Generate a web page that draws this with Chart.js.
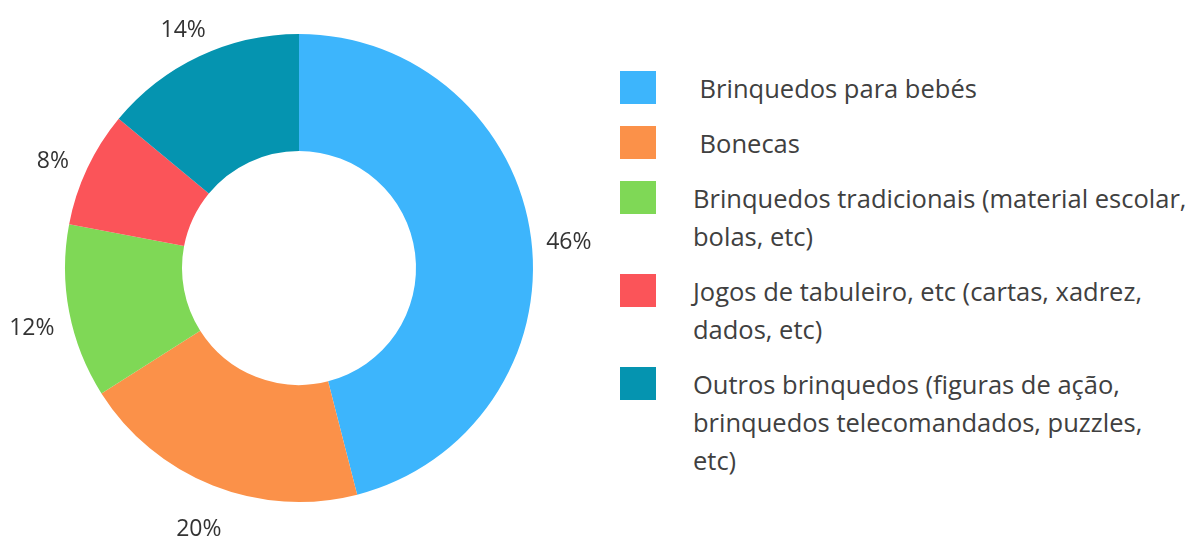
<!DOCTYPE html>
<html>
<head>
<meta charset="utf-8">
<script src="https://cdn.jsdelivr.net/npm/chart.js@4"></script>
<style>
  html, body { margin: 0; padding: 0; background: #fff; }
  body { width: 1193px; height: 536px; position: relative; overflow: hidden; font-family: "Open Sans", sans-serif; }
  #wrap { position: absolute; left: 0; top: 0; width: 600px; height: 536px; }
  #legend { position: absolute; left: 620px; top: 69px; margin: 0; padding: 0; list-style: none; }
  #legend li { display: flex; align-items: flex-start; margin-bottom: 17px; }
  #legend .box { width: 36px; height: 33px; margin-top: 2px; margin-right: 37px; flex: none; }
  #legend .txt { font-size: 25.5px; line-height: 38px; color: #404040; white-space: pre; }
</style>
</head>
<body>
<div id="wrap"><canvas id="chart"></canvas></div>
<ul id="legend"></ul>
<script>
  // --- Data
  const labels = [
    " Brinquedos para bebés",
    " Bonecas",
    "Brinquedos tradicionais (material escolar,\nbolas, etc)",
    "Jogos de tabuleiro, etc (cartas, xadrez,\ndados, etc)",
    "Outros brinquedos (figuras de ação,\nbrinquedos telecomandados, puzzles,\netc)"
  ];
  const values = [46, 20, 12, 8, 14];
  const colors = ["#3db5fc", "#fb9149", "#7fd856", "#fb5459", "#0594b0"];

  // --- Legend (HTML)
  const elLegend = document.getElementById("legend");
  labels.forEach((lab, i) => {
    const li = document.createElement("li");
    const box = document.createElement("span");
    box.className = "box";
    box.style.background = colors[i];
    const txt = document.createElement("span");
    txt.className = "txt";
    txt.textContent = lab;
    li.appendChild(box);
    li.appendChild(txt);
    elLegend.appendChild(li);
  });

  // --- Outside percent labels
  const outsideLabels = {
    id: "outsideLabels",
    afterDatasetsDraw(chart){
      const ctx = chart.ctx;
      const meta = chart.getDatasetMeta(0);
      const data = chart.data.datasets[0].data;
      ctx.save();
      ctx.font = "23px 'Open Sans', sans-serif";
      ctx.fillStyle = "#333";
      ctx.textAlign = "center";
      ctx.textBaseline = "middle";
      meta.data.forEach((arc, i) => {
        const p = arc.getProps(["x","y","startAngle","endAngle","outerRadius"], true);
        const mid = (p.startAngle + p.endAngle) / 2;
        const r = p.outerRadius + 38;
        ctx.fillText(data[i] + "%", p.x + Math.cos(mid) * r, p.y + Math.sin(mid) * r + 9);
      });
      ctx.restore();
    }
  };

  new Chart(document.getElementById("chart"), {
    type: "doughnut",
    data: {
      labels: labels,
      datasets: [{ data: values, backgroundColor: colors, borderWidth: 0 }]
    },
    options: {
      responsive: true,
      maintainAspectRatio: false,
      animation: false,
      cutout: "50%",
      layout: { padding: { left: 65, right: 67, top: 34, bottom: 34 } },
      plugins: { legend: { display: false }, tooltip: { enabled: false } }
    },
    plugins: [outsideLabels]
  });
</script>
</body>
</html>
